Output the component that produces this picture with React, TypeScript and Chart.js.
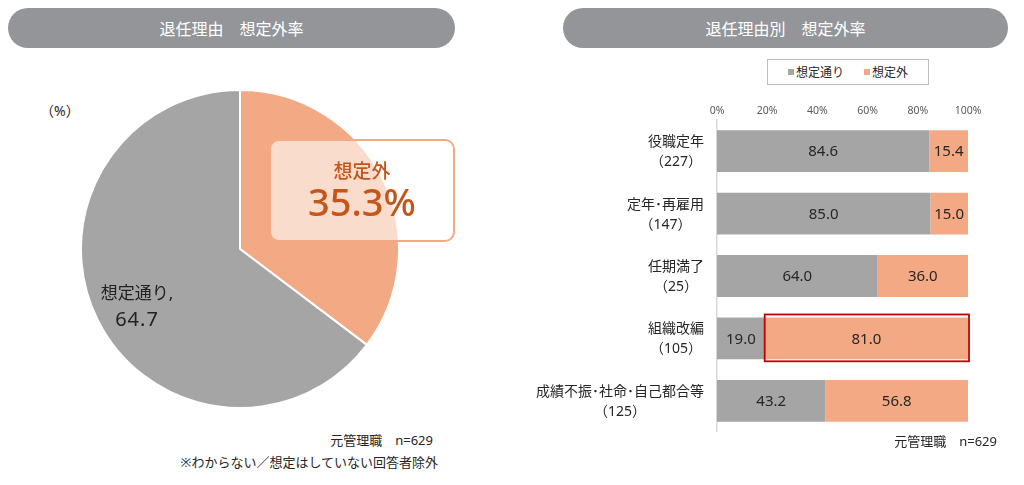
import { useEffect, useRef } from "react";
import Chart from "chart.js/auto";

const pieLabels = ["想定外", "想定通り"];
const pieValues = [35.3, 64.7];

const categories = ["役職定年", "定年･再雇用", "任期満了", "組織改編", "成績不振･社命･自己都合等"];
const counts = [227, 147, 25, 105, 125];
const expected = [84.6, 85.0, 64.0, 19.0, 43.2];
const unexpected = [15.4, 15.0, 36.0, 81.0, 56.8];
const highlightIndex = 3;

const GRAY = "#a5a5a5";
const ORANGE = "#f3a983";
const FONT = "'Noto Sans', 'Noto Sans CJK JP', sans-serif";

Chart.defaults.font.family = FONT;

function PieChart() {
  const ref = useRef<HTMLCanvasElement | null>(null);

  useEffect(() => {
    if (!ref.current) return;
    const chart = new Chart(ref.current, {
      type: "pie",
      data: {
        labels: pieLabels,
        datasets: [{ data: pieValues, backgroundColor: [ORANGE, GRAY], borderColor: "#fff", borderWidth: 2 }],
      },
      options: {
        responsive: false,
        animation: false,
        plugins: { legend: { display: false }, tooltip: { enabled: false } },
      },
    });
    return () => chart.destroy();
  }, []);

  return <canvas ref={ref} width={320} height={320} style={{ width: 320, height: 320 }} />;
}

const valueLabels = {
  id: "valueLabels",
  afterDatasetsDraw(chart: any) {
    const ctx = chart.ctx;
    ctx.save();
    ctx.font = `15px ${FONT}`;
    ctx.fillStyle = "#262626";
    ctx.textAlign = "center";
    ctx.textBaseline = "middle";
    chart.data.datasets.forEach((ds: any, di: number) => {
      chart.getDatasetMeta(di).data.forEach((el: any, i: number) => {
        const { x, base, y } = el.getProps(["x", "base", "y"], true);
        ctx.fillText(Number(ds.data[i]).toFixed(1), (x + base) / 2, y + 1);
      });
    });
    ctx.restore();
  },
};

const highlight = {
  id: "highlight",
  afterDatasetsDraw(chart: any) {
    const el = chart.getDatasetMeta(1).data[highlightIndex];
    if (!el) return;
    const { x, base, y, height } = el.getProps(["x", "base", "y", "height"], true);
    const ctx = chart.ctx;
    ctx.save();
    ctx.strokeStyle = "#c00000";
    ctx.lineWidth = 1.8;
    ctx.strokeRect(base, y - height / 2 - 3, x - base + 1, height + 5);
    ctx.restore();
  },
};

const categoryLabels = {
  id: "categoryLabels",
  afterDraw(chart: any) {
    const ctx = chart.ctx;
    const yScale = chart.scales.y;
    const right = yScale.right - 13;
    ctx.save();
    ctx.font = `14px ${FONT}`;
    ctx.fillStyle = "#262626";
    ctx.textAlign = "center";
    ctx.textBaseline = "middle";
    categories.forEach((c, i) => {
      const lines = [c, `（${counts[i]}）`];
      const w = Math.max(...lines.map((l) => ctx.measureText(l).width));
      const cx = right - w / 2;
      const cy = yScale.getPixelForTick(i);
      ctx.fillText(lines[0], cx, cy - 9);
      ctx.fillText(lines[1], cx, cy + 11);
    });
    ctx.restore();
  },
};

function BarChart() {
  const ref = useRef<HTMLCanvasElement | null>(null);

  useEffect(() => {
    if (!ref.current) return;
    const chart = new Chart(ref.current, {
      type: "bar",
      data: {
        labels: categories,
        datasets: [
          { label: "想定通り", data: expected, backgroundColor: GRAY, barPercentage: 0.67, categoryPercentage: 1 },
          { label: "想定外", data: unexpected, backgroundColor: ORANGE, barPercentage: 0.67, categoryPercentage: 1 },
        ],
      },
      options: {
        indexAxis: "y",
        responsive: false,
        animation: false,
        layout: { padding: { right: 56, top: 0, bottom: 0, left: 0 } },
        scales: {
          x: {
            stacked: true,
            position: "top",
            min: 0,
            max: 100,
            ticks: {
              stepSize: 20,
              callback: (v: any) => `${v}%`,
              font: { size: 10.5 },
              color: "#595959",
              padding: 3,
            },
            grid: { display: false, drawTicks: false },
            border: { display: false },
            afterFit: (s: any) => {
              s.height = 25;
            },
          },
          y: {
            stacked: true,
            ticks: { display: false },
            grid: { display: false },
            border: { display: true, color: "#d9d9d9", width: 1.5 },
            afterFit: (s: any) => {
              s.width = 197;
            },
          },
        },
        plugins: { legend: { display: false }, tooltip: { enabled: false } },
      },
      plugins: [valueLabels, highlight, categoryLabels],
    });
    return () => chart.destroy();
  }, []);

  return <canvas ref={ref} width={504} height={337} style={{ width: 504, height: 337 }} />;
}

const pill: React.CSSProperties = {
  position: "absolute",
  top: 8,
  height: 40,
  borderRadius: 20,
  background: "#949599",
  color: "#fff",
  fontSize: 16,
  display: "flex",
  alignItems: "center",
  justifyContent: "center",
};

const abs = (left: number, top: number, extra: React.CSSProperties = {}): React.CSSProperties => ({
  position: "absolute",
  left,
  top,
  whiteSpace: "nowrap",
  ...extra,
});

export default function App() {
  return (
    <div
      style={{
        position: "fixed",
        left: 0,
        top: 0,
        width: 1024,
        height: 485,
        background: "#fff",
        fontFamily: FONT,
        color: "#262626",
        overflow: "hidden",
      }}
    >
      <div style={{ ...pill, left: 8, width: 447 }}>退任理由　想定外率</div>
      <div style={{ ...pill, left: 563, width: 445 }}>退任理由別　想定外率</div>

      <div style={abs(40, 100, { fontSize: 14 })}>（%）</div>

      <div style={abs(80, 89)}>
        <PieChart />
      </div>

      <div
        style={abs(269, 139, {
          width: 186,
          height: 103,
          boxSizing: "border-box",
          border: `2px solid ${ORANGE}`,
          borderRadius: 10,
          background: "rgba(255,255,255,0.6)",
          color: "#c4561b",
          textAlign: "center",
        })}
      >
        <div style={{ fontSize: 19, marginTop: 19, lineHeight: "22px", fontWeight: 500 }}>{pieLabels[0]}</div>
        <div style={{ fontSize: 38, lineHeight: "44px", marginTop: -3, fontWeight: 500 }}>
          {pieValues[0].toFixed(1)}%
        </div>
      </div>

      <div style={abs(60, 280, { width: 154, textAlign: "center", fontSize: 17, lineHeight: "26px", color: "#222" })}>
        <div>{pieLabels[1]},</div>
        <div style={{ fontSize: 20, letterSpacing: 1 }}>{pieValues[1].toFixed(1)}</div>
      </div>

      <div style={abs(0, 430, { width: 433, textAlign: "right", fontSize: 13 })}>元管理職　n=629</div>
      <div style={abs(0, 452, { width: 438, textAlign: "right", fontSize: 13 })}>※わからない／想定はしていない回答者除外</div>

      <div
        style={abs(767, 59, {
          width: 162,
          height: 26,
          boxSizing: "border-box",
          border: "1px solid #bfbfbf",
          display: "flex",
          alignItems: "center",
          justifyContent: "center",
          gap: 20,
          fontSize: 12,
        })}
      >
        {[
          ["想定通り", GRAY],
          ["想定外", ORANGE],
        ].map(([t, c]) => (
          <span key={t} style={{ display: "flex", alignItems: "center" }}>
            <span style={{ width: 6, height: 6, background: c, marginRight: 2 }} />
            {t}
          </span>
        ))}
      </div>

      <div style={abs(520, 95)}>
        <BarChart />
      </div>

      <div style={abs(0, 431, { width: 997, textAlign: "right", fontSize: 13 })}>元管理職　n=629</div>
    </div>
  );
}
